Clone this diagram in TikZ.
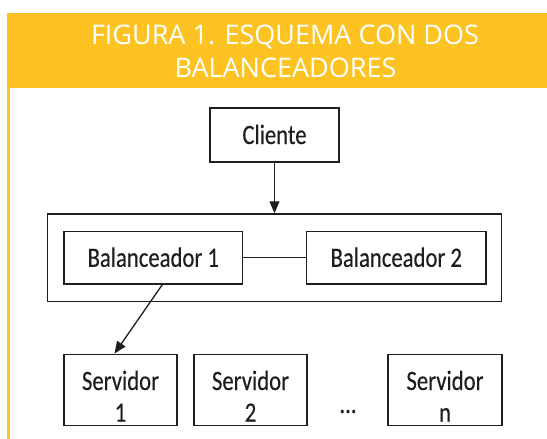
\documentclass[tikz,border=0pt]{standalone}
\usepackage{fontspec}
\setmainfont{Carlito}[FakeStretch=0.81,FakeBold=0.35]
\newfontfamily\titlefont{Open Sans}
\usetikzlibrary{arrows.meta}
\definecolor{banner}{RGB}{252,195,35}
\definecolor{ink}{RGB}{30,30,30}
\begin{document}
\begin{tikzpicture}[x=1pt,y=-1pt,
  box/.style={draw=ink, line width=1.4pt, rectangle, inner sep=0pt, font=\fontsize{28}{32}\selectfont, text=ink, text height=18pt, text depth=0pt},
  lbl/.style={inner sep=0pt, font=\fontsize{28}{32}\selectfont, text=ink, anchor=base},
  ttl/.style={inner sep=0pt, font=\titlefont\fontsize{27}{32}\selectfont, text=white, anchor=base},
  conn/.style={draw=ink, line width=1.3pt},
  arr/.style={conn, -{Triangle[length=12pt,width=10pt]}}]
\useasboundingbox (0,0) rectangle (547,439);
\fill[banner] (7.3,13.3) rectangle (547,88.3);
\fill[banner] (7.3,88.3) rectangle (10,439);
\node[ttl] (t1) at (285,45) {FIGURA 1. ESQUEMA CON DOS};
\node[ttl] (t2) at (285.5,77.3) {BALANCEADORES};
\node[box, minimum width=129pt, minimum height=54pt] (cli) at (274.5,135) {Cliente};
\node[box, minimum width=454pt, minimum height=87.7pt] (grp) at (274.7,257.8) {};
\node[box, minimum width=178.7pt, minimum height=52.3pt] (b1) at (153.3,257.8) {Balanceador 1};
\node[box, minimum width=179.3pt, minimum height=52.3pt] (b2) at (396.3,257.8) {Balanceador 2};
\draw[conn] (b1) -- (b2);
\draw[arr] (cli.south) -- (cli.south |- grp.north);
\node[box, minimum width=113pt, minimum height=71.5pt] (s1) at (120.5,390) {};
\node[box, minimum width=113pt, minimum height=71.5pt] (s2) at (250.5,390) {};
\node[box, minimum width=114pt, minimum height=71.5pt] (sn) at (445,390) {};
\node[lbl] (s1a) at (s1.center) {Servidor};
\node[lbl] (s1b) at (120.5,421.7) {1};
\node[lbl] (s2a) at (s2.center) {Servidor};
\node[lbl] (s2b) at (250.5,421.7) {2};
\node[lbl] (sna) at (sn.center) {Servidor};
\node[lbl] (snb) at (445,421.7) {n};
\node[lbl] (dots) at (348,413) {...};
\draw[arr] ([xshift=9pt]b1.south) -- ([xshift=-6pt]s1.north);
\end{tikzpicture}
\end{document}
